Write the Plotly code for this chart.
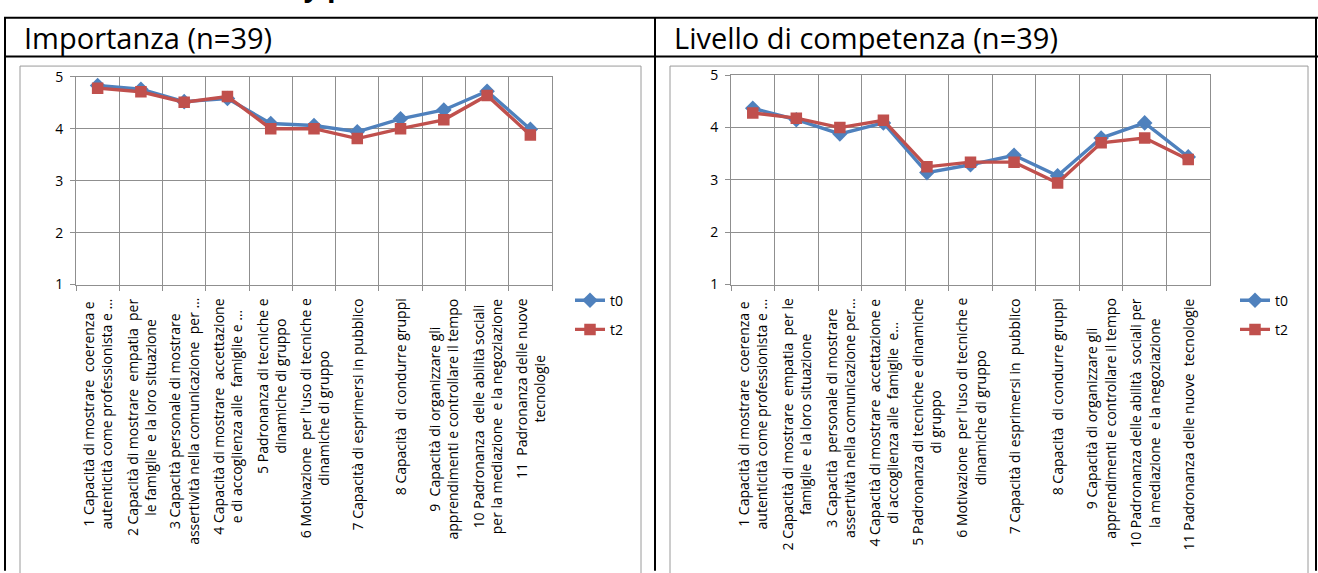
import plotly.graph_objects as go

W, H = 1318, 573

# Skill items (x categories) and mean scores at t0 / t2
items = [str(i) for i in range(1, 12)]

imp_t0 = [4.83, 4.76, 4.52, 4.58, 4.10, 4.06, 3.94, 4.19, 4.36, 4.72, 3.99]
imp_t2 = [4.78, 4.71, 4.51, 4.62, 4.00, 4.00, 3.81, 4.00, 4.17, 4.64, 3.88]

comp_t0 = [4.37, 4.15, 3.88, 4.09, 3.14, 3.29, 3.47, 3.08, 3.80, 4.09, 3.44]
comp_t2 = [4.28, 4.18, 4.00, 4.14, 3.25, 3.34, 3.34, 2.94, 3.71, 3.80, 3.39]

series_names = ["t0", "t2"]
y_ticks = [1, 2, 3, 4, 5]

imp_labels = [
    "1 Capacità di mostrare  coerenza e<br>autenticità come professionista e …",
    "2 Capacità di mostrare  empatia  per<br>le famiglie  e la loro situazione",
    "3 Capacità personale di mostrare<br>assertività nella comunicazione  per …",
    "4 Capacità di mostrare  accettazione<br>e di accoglienza alle  famiglie e …",
    "5 Padronanza di tecniche e<br>dinamiche di gruppo",
    "6 Motivazione  per l'uso di tecniche e<br>dinamiche di gruppo",
    "7 Capacità di esprimersi in pubblico",
    "8 Capacità  di condurre gruppi",
    "9  Capacità di organizzare gli<br>apprendimenti e controllare il tempo",
    "10 Padronanza  delle abilità sociali<br>per la mediazione  e la negoziazione",
    "11  Padronanza delle nuove<br>tecnologie",
]

comp_labels = [
    "1 Capacità di mostrare  coerenza e<br>autenticità come professionista e …",
    "2 Capacità di mostrare  empatia  per le<br>famiglie  e la loro situazione",
    "3 Capacità  personale di mostrare<br>assertività nella comunicazione per…",
    "4 Capacità di mostrare  accettazione e<br>di accoglienza alle  famiglie  e…",
    "5 Padronanza di tecniche e dinamiche<br>di gruppo",
    "6 Motivazione  per l'uso di tecniche e<br>dinamiche di gruppo",
    "7 Capacità di esprimersi in  pubblico",
    "8 Capacità  di condurre gruppi",
    "9 Capacità di organizzare gli<br>apprendimenti e controllare il tempo",
    "10 Padronanza delle abilità  sociali per<br>la mediazione  e la negoziazione",
    "11 Padronanza delle nuove  tecnologie",
]

headers = ["Importanza (n=39)", "Livello di competenza (n=39)"]
page_title = "Self-assessed skills by professionals and educators (t0-t2)"

BLUE = "#4F81BD"
RED = "#C0504D"
GRID = "#8f8f8f"
FONT = "Open Sans"


def px(x):
    return x / W


def py(y):
    return 1 - y / H


fig = go.Figure()

panels = [
    ("x", "y", imp_t0, imp_t2, "legend"),
    ("x2", "y2", comp_t0, comp_t2, "legend2"),
]
for xa, ya, t0, t2, leg in panels:
    fig.add_trace(go.Scatter(
        x=items, y=t0, xaxis=xa, yaxis=ya, name=series_names[0],
        mode="lines+markers", line=dict(color=BLUE, width=3.4),
        marker=dict(symbol="diamond", size=12, color=BLUE),
        legend=leg, legendgroup=xa + "a",
    ))
    fig.add_trace(go.Scatter(
        x=items, y=t2, xaxis=xa, yaxis=ya, name=series_names[1],
        mode="lines+markers", line=dict(color=RED, width=3.4),
        marker=dict(symbol="square", size=11.5, color=RED),
        legend=leg, legendgroup=xa + "b",
    ))

xaxis_common = dict(
    type="category", range=[-0.5, len(items) - 0.5], autorange=False,
    tickson="boundaries", ticks="outside", ticklen=5,
    tickcolor=GRID, showticklabels=False, showgrid=True, gridcolor=GRID,
    gridwidth=1, showline=True, linecolor=GRID, linewidth=1, mirror=True,
    zeroline=False,
)
yaxis_common = dict(
    range=[1, 5], autorange=False, tickvals=y_ticks, ticks="outside", ticklen=5,
    tickcolor=GRID, showgrid=True, gridcolor=GRID, gridwidth=1,
    showline=True, linecolor=GRID, linewidth=1, mirror=True, zeroline=False,
    ticklabelstandoff=4,
    tickfont=dict(family=FONT, size=14, color="#000000"),
)

fig.update_layout(
    width=W, height=H,
    margin=dict(l=0, r=0, t=0, b=0),
    paper_bgcolor="white", plot_bgcolor="white",
    xaxis=dict(domain=[px(76), px(552)], anchor="y", **xaxis_common),
    yaxis=dict(domain=[py(284), py(69)], anchor="x", **yaxis_common),
    xaxis2=dict(domain=[px(731), px(1210)], anchor="y2", **xaxis_common),
    yaxis2=dict(domain=[py(284), py(67.5)], anchor="x2", **yaxis_common),
    legend=dict(x=px(570), y=py(284), xanchor="left", yanchor="top",
                font=dict(family=FONT, size=14, color="#000000"),
                tracegroupgap=8, bgcolor="rgba(0,0,0,0)"),
    legend2=dict(x=px(1235), y=py(284), xanchor="left", yanchor="top",
                 font=dict(family=FONT, size=14, color="#000000"),
                 tracegroupgap=8, bgcolor="rgba(0,0,0,0)"),
    showlegend=True,
)

# Table frame and chart boxes
shapes = []
line_black = dict(color="#000000", width=2)
for y in (8, 48):
    shapes.append(dict(type="line", xref="paper", yref="paper",
                       x0=px(4), x1=px(1318), y0=py(y), y1=py(y), line=line_black))
for x in (5, 655, 1316):
    shapes.append(dict(type="line", xref="paper", yref="paper",
                       x0=px(x), x1=px(x), y0=py(8), y1=py(580), line=line_black))
for x0, x1 in ((20, 641), (670, 1308)):
    shapes.append(dict(type="rect", xref="paper", yref="paper",
                       x0=px(x0), x1=px(x1), y0=py(58), y1=py(590),
                       line=dict(color="#9a9a9a", width=1)))
fig.update_layout(shapes=shapes)

annotations = []
# Rotated category labels under each plot (x given as category index)
for xa, labels in (("x", imp_labels), ("x2", comp_labels)):
    for idx, lab in enumerate(labels):
        annotations.append(dict(
            x=idx, xref=xa, y=py(296), yref="paper", text=lab,
            textangle=-90, xanchor="center", yanchor="top", align="center",
            showarrow=False, font=dict(family=FONT, size=14, color="#000000"),
        ))
# Column headers
for x, txt in ((22, headers[0]), (672, headers[1])):
    annotations.append(dict(
        x=px(x), y=py(28), xref="paper", yref="paper", text=txt,
        xanchor="left", yanchor="middle", showarrow=False,
        font=dict(family=FONT, size=29, color="#000000"),
    ))
# Page title running off the top edge
annotations.append(dict(
    x=px(15), y=py(-4), xref="paper", yref="paper", text="<b>" + page_title + "</b>",
    xanchor="left", yanchor="bottom", showarrow=False,
    font=dict(family=FONT, size=28, color="#000000"),
))
fig.update_layout(annotations=annotations)

fig.write_html("out.html")
